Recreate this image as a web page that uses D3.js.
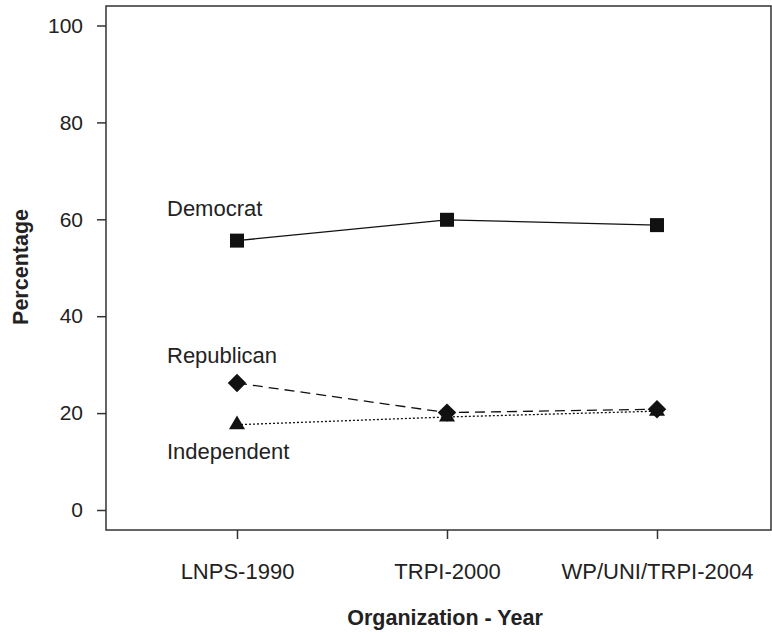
<!DOCTYPE html>
<html lang="en">
<head>
  <script src="https://d3js.org/d3.v7.min.js"></script>
  <style>
    body { margin: 0; background: #fff; }
    svg text { font-family: "Liberation Sans", Arial, sans-serif; fill: #222; }
  </style>
</head>
<body>
<script>
// chart data
var categories = ["LNPS-1990", "TRPI-2000", "WP/UNI/TRPI-2004"];
var democrat = [55.6, 59.9, 58.8];
var republican = [26.2, 20.1, 20.8];
var independent = [17.6, 19.2, 20.4];
var yTicks = [0, 20, 40, 60, 80, 100];

var series = [
  { name: "Democrat", values: democrat, dash: null, symbol: d3.symbolSquare, size: 196, rot: 0 },
  { name: "Republican", values: republican, dash: "10,6", symbol: d3.symbolSquare, size: 170, rot: 45 },
  { name: "Independent", values: independent, dash: "2,2", symbol: d3.symbolTriangle, size: 112, rot: 0 }
];

var W = 772, H = 636;
var svg = d3.select("body").append("svg").attr("width", W).attr("height", H);

var frame = { left: 106, right: 771, top: 6, bottom: 530 };

var x = d3.scalePoint().domain(categories).range([237, 657]);
var y = d3.scaleLinear().domain([0, 100]).range([510, 25.5]);

// frame box
svg.append("rect")
  .attr("x", frame.left).attr("y", frame.top)
  .attr("width", frame.right - frame.left).attr("height", frame.bottom - frame.top)
  .attr("fill", "none").attr("stroke", "#333").attr("stroke-width", 1.5);

// y axis
var yAxis = svg.append("g")
  .attr("transform", "translate(" + frame.left + ",0)")
  .call(d3.axisLeft(y).tickValues(yTicks).tickSize(9).tickPadding(14));
yAxis.select(".domain").remove();
yAxis.selectAll("line").attr("stroke", "#333").attr("stroke-width", 1.5);
yAxis.selectAll("text").style("font-size", "21px").style("font-family", "Liberation Sans, Arial, sans-serif").attr("fill", "#222");

// x axis
var xAxis = svg.append("g")
  .attr("transform", "translate(0," + frame.bottom + ")")
  .call(d3.axisBottom(x).tickSize(9).tickPadding(24));
xAxis.select(".domain").remove();
xAxis.selectAll("line").attr("stroke", "#333").attr("stroke-width", 1.5);
xAxis.selectAll("text").style("font-size", "22px").style("font-family", "Liberation Sans, Arial, sans-serif").attr("fill", "#222");

// axis titles
svg.append("text")
  .attr("x", 445).attr("y", 625)
  .attr("text-anchor", "middle")
  .style("font-size", "21.5px").style("font-weight", "bold")
  .text("Organization - Year");

svg.append("text")
  .attr("transform", "translate(28,267) rotate(-90)")
  .attr("text-anchor", "middle")
  .style("font-size", "21.5px").style("font-weight", "bold")
  .text("Percentage");

var line = d3.line()
  .x(function(d, i) { return x(categories[i]); })
  .y(function(d) { return y(d); });

series.forEach(function(s) {
  svg.append("path")
    .datum(s.values)
    .attr("d", line)
    .attr("fill", "none")
    .attr("stroke", "#111")
    .attr("stroke-width", 1.3)
    .attr("stroke-dasharray", s.dash);

  svg.selectAll(null)
    .data(s.values)
    .enter().append("path")
    .attr("d", d3.symbol().type(s.symbol).size(s.size))
    .attr("transform", function(d, i) {
      return "translate(" + x(categories[i]) + "," + y(d) + ") rotate(" + s.rot + ")";
    })
    .attr("fill", "#111");
});

// series labels near first point
var labelOffsets = { "Democrat": -25, "Republican": -20, "Independent": 34 };
series.forEach(function(s) {
  svg.append("text")
    .attr("x", x(categories[0]) - 70)
    .attr("y", y(s.values[0]) + labelOffsets[s.name])
    .style("font-size", "22px")
    .text(s.name);
});
</script>
</body>
</html>
